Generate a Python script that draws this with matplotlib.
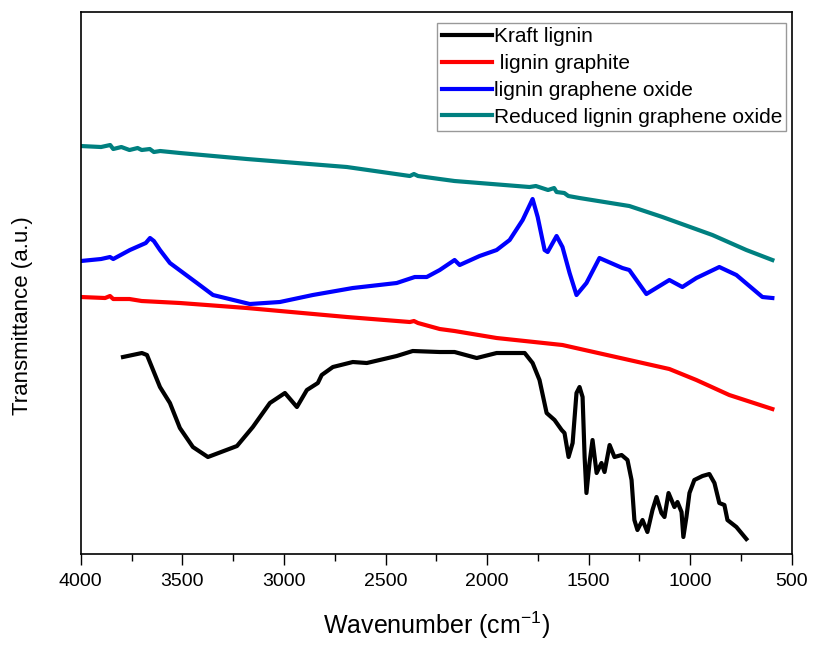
import matplotlib
matplotlib.use("Agg")
import matplotlib.pyplot as plt
import numpy as np

plt.rcParams["font.family"] = ["Liberation Sans", "DejaVu Sans"]
plt.rcParams["mathtext.fontset"] = "custom"
plt.rcParams["mathtext.rm"] = "Liberation Sans"
plt.rcParams["mathtext.it"] = "Liberation Sans:italic"

# Kraft lignin
kl_wn = [3792, 3699, 3674, 3610, 3561, 3512, 3448, 3374, 3231, 3153, 3069, 2995,
         2936, 2887, 2833, 2814, 2759, 2661, 2592, 2445, 2366, 2233, 2160, 2051,
         1953, 1815, 1776, 1742, 1707, 1668, 1633, 1619, 1599, 1579, 1560, 1545,
         1530, 1520, 1511, 1496, 1481, 1461, 1437, 1422, 1397, 1373, 1338, 1309,
         1289, 1275, 1260, 1235, 1211, 1186, 1166, 1142, 1127, 1107, 1078, 1063,
         1043, 1034, 1019, 1004, 980, 940, 906, 881, 857, 832, 817, 773, 724]
kl_t = [197, 201, 199, 167, 151, 126, 107, 97, 108, 127, 151, 161,
        147, 164, 171, 179, 187, 192, 191, 198, 203, 202, 202, 196,
        201, 201, 191, 174, 141, 134, 124, 121, 97, 111, 161, 167,
        157, 97, 61, 91, 114, 81, 91, 82, 109, 97, 99, 94,
        74, 34, 24, 34, 22, 44, 57, 41, 37, 61, 47, 52,
        42, 17, 37, 61, 74, 78, 80, 71, 51, 49, 34, 27, 15]

# lignin graphite
lg_wn = [4000, 3880, 3856, 3840, 3760, 3700, 3511, 3182, 2690, 2380, 2360, 2340,
         2233, 2160, 1953, 1629, 1300, 1103, 970, 808, 596]
lg_t = [257, 256, 258, 255, 255, 253, 251, 246, 237, 232, 233, 231,
        225, 223, 216, 209, 194, 185, 174, 159, 145]

# lignin graphene oxide
lgo_wn = [4000, 3900, 3856, 3840, 3758, 3680, 3659, 3640, 3610, 3561, 3428, 3349,
          3168, 3020, 2858, 2661, 2445, 2356, 2297, 2233, 2160, 2135, 2037, 1953,
          1889, 1825, 1776, 1751, 1717, 1702, 1658, 1629, 1594, 1560, 1511, 1447,
          1334, 1300, 1216, 1103, 1039, 970, 857, 773, 645, 596]
lgo_t = [293, 295, 297, 295, 304, 311, 316, 313, 304, 291, 271, 259,
         250, 252, 259, 266, 271, 277, 277, 284, 294, 289, 298, 304,
         314, 334, 355, 337, 304, 302, 318, 307, 281, 259, 271, 296,
         286, 284, 260, 274, 267, 276, 287, 279, 257, 256]

# Reduced lignin graphene oxide
rlgo_wn = [4000, 3900, 3855, 3840, 3800, 3760, 3720, 3700, 3660, 3640, 3609, 3511,
           3182, 2690, 2380, 2360, 2340, 2233, 2160, 1791, 1760, 1700, 1670, 1658,
           1620, 1600, 1545, 1300, 1137, 891, 724, 596]
rlgo_t = [408, 407, 409, 405, 407, 404, 406, 404, 405, 402, 403, 401,
          395, 387, 378, 380, 378, 375, 373, 367, 368, 364, 366, 362,
          361, 358, 356, 348, 337, 319, 304, 294]

series = [
    (kl_wn, kl_t, "#000000", "Kraft lignin"),
    (lg_wn, lg_t, "#ff0000", " lignin graphite"),
    (lgo_wn, lgo_t, "#0000ff", "lignin graphene oxide"),
    (rlgo_wn, rlgo_t, "#008080", "Reduced lignin graphene oxide"),
]

fig = plt.figure(figsize=(8.13, 6.46), dpi=100)
ax = fig.add_axes([0.0993, 0.1424, 0.8747, 0.839])

for wn, t, col, lab in series:
    ax.plot(np.array(wn), np.array(t), color=col, lw=3, label=lab)

ax.set_xlim(4000, 500)
ax.set_ylim(0, 542)
ax.set_xticks(np.arange(4000, 499, -500))
ax.set_xticks(np.arange(3750, 500, -500), minor=True)
ax.set_yticks([])
ax.tick_params(axis="x", which="major", direction="out", length=8, width=1,
               labelsize=14, pad=6)
ax.tick_params(axis="x", which="minor", direction="out", length=5, width=1)
for sp in ax.spines.values():
    sp.set_linewidth(1.2)

ax.set_xlabel(r"Wavenumber (cm$^{-1}$)", fontsize=18)
ax.set_ylabel("Transmittance (a.u.)", fontsize=16)
ax.xaxis.set_label_coords(0.5, -0.103)
ax.yaxis.set_label_coords(-0.067, 0.44)

leg = ax.legend(loc="upper right", bbox_to_anchor=(0.992, 0.98), fontsize=15,
                frameon=True, fancybox=False, edgecolor="#808080",
                handlelength=2.4, handletextpad=0.1, borderpad=0.2,
                labelspacing=0.38, borderaxespad=0)
leg.get_frame().set_linewidth(1)

fig.savefig("out.png", dpi=100)
